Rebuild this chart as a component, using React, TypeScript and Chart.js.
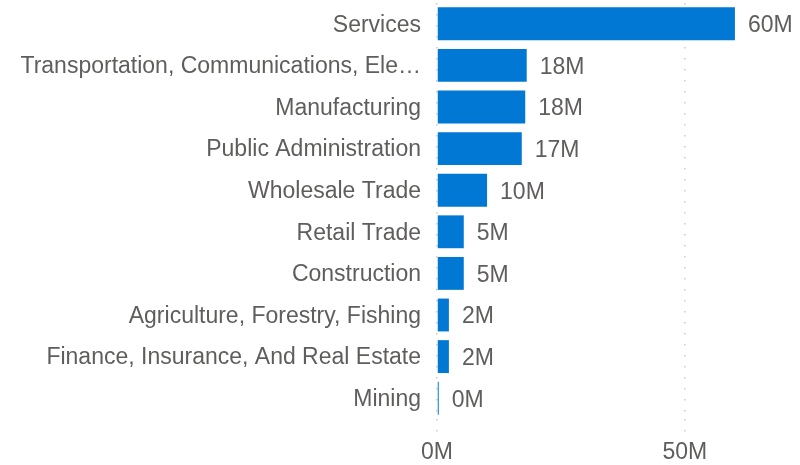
import React, { useEffect, useRef } from "react";
import { Chart, registerables } from "chart.js";

Chart.register(...registerables);

const categories: string[] = [
  "Services",
  "Transportation, Communications, Electric, Gas, And Sanitary Services",
  "Manufacturing",
  "Public Administration",
  "Wholesale Trade",
  "Retail Trade",
  "Construction",
  "Agriculture, Forestry, Fishing",
  "Finance, Insurance, And Real Estate",
  "Mining",
];

const values: number[] = [
  60100000, 18100000, 17800000, 17100000, 10100000, 5400000, 5400000, 2400000, 2400000, 350000,
];

const xTickValues: number[] = [0, 50000000];

const FONT = "Arial, 'Liberation Sans', sans-serif";
const FS = 23;
const TEXT = "#605e5c";
const BAR = "#0078d4";

const fmtM = (v: number) => `${Math.round(v / 1e6)}M`;

const labelPlugin = {
  id: "barLabels",
  afterDatasetsDraw(chart: any) {
    const ctx = chart.ctx;
    const meta = chart.getDatasetMeta(0);
    ctx.save();
    ctx.font = `${FS}px ${FONT}`;
    ctx.fillStyle = TEXT;
    ctx.textAlign = "left";
    ctx.textBaseline = "middle";
    meta.data.forEach((el: any, i: number) => {
      ctx.fillText(fmtM(values[i]), el.x + 13, el.y + 2);
    });
    ctx.restore();
  },
};

export default function App() {
  const ref = useRef<HTMLCanvasElement | null>(null);
  useEffect(() => {
    if (!ref.current) return;
    const chart = new Chart(ref.current, {
      type: "bar",
      data: {
        labels: categories,
        datasets: [
          {
            data: values,
            backgroundColor: BAR,
            barPercentage: 0.79,
            categoryPercentage: 1,
          },
        ],
      },
      plugins: [labelPlugin],
      options: {
        indexAxis: "y",
        animation: false,
        responsive: false,
        devicePixelRatio: 1,
        layout: { padding: { top: 3, right: 16, left: 0, bottom: 0 } },
        plugins: { legend: { display: false }, tooltip: { enabled: false } },
        scales: {
          x: {
            min: 0,
            max: 70000000,
            afterBuildTicks: (scale: any) => {
              scale.ticks = xTickValues.map((v) => ({ value: v }));
            },
            afterFit: (scale: any) => {
              scale.paddingLeft = 0;
              scale.paddingRight = 0;
              scale.paddingTop = 0;
              scale.paddingBottom = 0;
              scale.height = 46;
            },
            border: { display: false, dash: [1.5, 9.5] },
            grid: {
              color: "#cccccc",
              lineWidth: 1.5,
              drawTicks: true,
              tickLength: 13,
              tickColor: "#cccccc",
              tickBorderDash: [1.5, 9.5],
              tickWidth: 1.5,
            },
            ticks: {
              padding: 7,
              color: TEXT,
              font: { family: FONT, size: FS },
              maxRotation: 0,
              callback: (v: any) => fmtM(Number(v)),
            },
          },
          y: {
            afterFit: (scale: any) => {
              scale.width = 437;
              scale.paddingTop = 0;
              scale.paddingBottom = 0;
            },
            border: { display: false },
            grid: { display: false, drawTicks: false },
            ticks: {
              padding: 16,
              labelOffset: 1.5,
              color: TEXT,
              font: { family: FONT, size: FS },
              callback: (_v: any, i: number) => {
                const s = categories[i];
                return s.length > 35 ? s.slice(0, 35) + "…" : s;
              },
            },
          },
        },
      },
    });
    return () => chart.destroy();
  }, []);
  return (
    <div style={{ position: "fixed", left: 0, top: 0, width: 800, height: 465, background: "#fff" }}>
      <canvas ref={ref} width={800} height={465} style={{ width: 800, height: 465 }} />
    </div>
  );
}
